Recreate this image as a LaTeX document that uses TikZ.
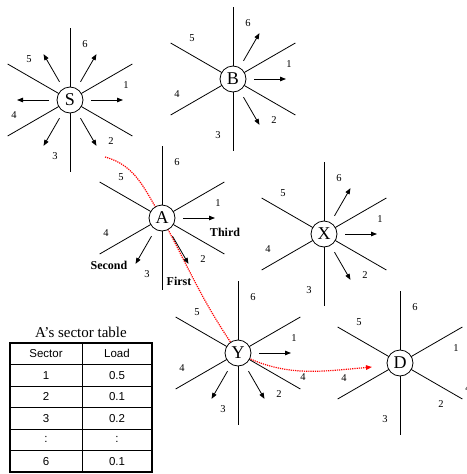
\documentclass[tikz,border=0pt]{standalone}
\usepackage{fontspec}
\setmainfont{Liberation Serif}
\newfontfamily\tablefont{Liberation Sans}
\usetikzlibrary{calc,arrows.meta}
\pgfdeclarelayer{background}
\pgfsetlayers{background,main}

\tikzset{
  hub/.style={circle, draw, line width=0.8pt, fill=white, minimum size=26pt,
    inner sep=0pt, font=\fontsize{18}{18}\selectfont},
  spoke/.style={line width=0.8pt},
  dirarrow/.style={-{Triangle[length=6pt,width=4.5pt]}, line width=0.8pt},
  seclabel/.style={inner sep=0pt, font=\fontsize{10.5}{12}\selectfont},
  order/.style={inner sep=0pt, font=\fontsize{12}{14}\selectfont\bfseries},
  route/.style={red, densely dotted, line width=1.2pt,
    -{Triangle[length=6pt,width=4.5pt]}},
  frame/.style={line width=1.6pt},
  rule/.style={line width=0.6pt},
  cell/.style={inner sep=0pt, font=\tablefont\fontsize{11.5}{13}\selectfont},
}

% a hub with six spokes and its sector numbers
\newcommand{\drawhub}[4]{%
  \node[hub] (#1) at (#2,-#3) {#4};
  \begin{pgfonlayer}{background}
    \foreach \a in {30,90,...,330} \draw[spoke] (#1.center) -- ++(\a:72);
  \end{pgfonlayer}
  \foreach \k in {1,...,6}
    \node[seclabel] (#1l\k) at ($(#1.center)+({15-60*(\k-1)}:58)$) {\k};
}
% outgoing arrows in the listed sectors
\newcommand{\hubarrows}[2]{%
  \foreach \k in {#2}
    \draw[dirarrow] ($(#1.center)+({-60*(\k-1)}:21)$) -- ($(#1.center)+({-60*(\k-1)}:53)$);
}

\begin{document}
\begin{tikzpicture}[x=1pt,y=1pt]
\useasboundingbox (0,0) rectangle (466,-474);

\drawhub{S}{70}{100}{S}
\hubarrows{S}{1,2,3,4,5,6}
\drawhub{B}{233}{79}{B}
\hubarrows{B}{1,2,6}
\drawhub{A}{162}{218}{A}
\hubarrows{A}{1,2,3}
\drawhub{X}{324}{234}{X}
\hubarrows{X}{1,2,6}
\drawhub{Y}{238}{353}{Y}
\hubarrows{Y}{1,2,3}
\drawhub{D}{400}{363}{D}

% order in which A tries its sectors
\node[order] (third) at (225,-232) {Third};
\node[order] (first) at (179,-281) {First};
\node[order] (second) at (109,-265) {Second};

% extra sector marks near D
\node[seclabel] (d4a) at (303,-377) {4};
\node[seclabel] (d4b) at (468,-388) {4};

% forwarding route S -> A -> Y -> D
\coordinate (rstart) at (105,-157);
\coordinate (rend) at (372,-367);
\begin{pgfonlayer}{background}
  \draw[route] (rstart) to[out=-15,in=122] (A.center)
    to[out=-62,in=125] (Y.center)
    to[out=-28,in=185] (rend);
\end{pgfonlayer}

% sector table of A
\node[inner sep=0pt, font=\fontsize{15}{17}\selectfont] (ttitle) at (81,-332) {A’s sector table};
\draw[frame] (10,-343) rectangle (152,-472);
\draw[rule] (82,-343) -- (82,-472);
\foreach \yy in {364.5,386,407.5,429,450.5}
  \draw[rule] (10,-\yy) -- (152,-\yy);
\foreach \sec/\ld [count=\i] in {Sector/Load,1/0.5,2/0.1,3/0.2,:/:,6/0.1} {
  \node[cell] (ts\i) at (46,{-353.75-21.5*(\i-1)}) {\sec};
  \node[cell] (tl\i) at (117,{-353.75-21.5*(\i-1)}) {\ld};
}
\end{tikzpicture}
\end{document}
